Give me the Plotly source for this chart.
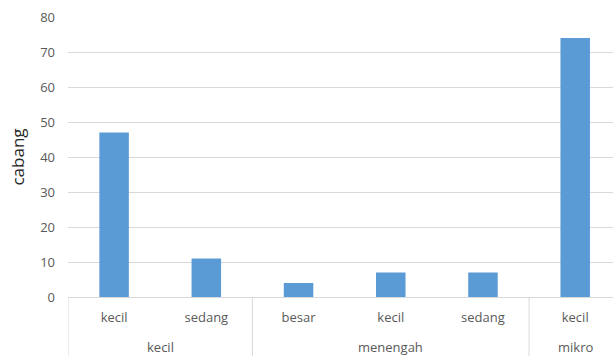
import plotly.graph_objects as go

groups = ["kecil", "kecil", "menengah", "menengah", "menengah", "mikro"]
subcats = ["kecil", "sedang", "besar", "kecil", "sedang", "kecil"]
values = [47, 11, 4, 7, 7, 74]
y_ticks = [0, 10, 20, 30, 40, 50, 60, 70, 80]

keys = [f"{g}/{s}" for g, s in zip(groups, subcats)]

fig = go.Figure(
    go.Bar(
        x=keys,
        y=values,
        marker=dict(color="#5B9BD5", line=dict(width=0)),
        width=0.32,
    )
)

plot_h = 356 - 17 - 59
grid_c = "#D9D9D9"

# group labels and dividers
group_names = []
for g in groups:
    if g not in group_names:
        group_names.append(g)
shapes = []
annotations = []
for g in group_names:
    idx = [i for i, gg in enumerate(groups) if gg == g]
    annotations.append(dict(
        x=sum(idx) / len(idx), xref="x",
        y=-(347 - 297) / plot_h, yref="paper",
        text=g, showarrow=False, yanchor="middle", xanchor="center",
        font=dict(family="Open Sans", size=13, color="#595959"),
    ))
    shapes.append(dict(
        type="line", xref="x", yref="paper",
        x0=idx[0] - 0.5, x1=idx[0] - 0.5,
        y0=0, y1=-59 / plot_h,
        line=dict(color=grid_c, width=1),
    ))

fig.update_layout(
    width=613,
    height=356,
    margin=dict(l=68, r=0, t=17, b=59),
    paper_bgcolor="white",
    plot_bgcolor="white",
    font=dict(family="Open Sans", size=13, color="#595959"),
    showlegend=False,
    shapes=shapes,
    annotations=annotations,
)

fig.update_yaxes(
    range=[0, 80],
    tickvals=y_ticks,
    showgrid=True,
    gridcolor=grid_c,
    gridwidth=1,
    zeroline=False,
    showline=False,
    ticks="",
    ticklabelstandoff=12,
    tickfont=dict(size=13, color="#595959"),
    title=dict(text="cabang", font=dict(size=17, color="#262626"), standoff=11),
)

fig.update_xaxes(
    type="category",
    categoryorder="array",
    categoryarray=keys,
    tickvals=keys,
    ticktext=subcats,
    range=[-0.5, 5.41],
    showline=True,
    linecolor=grid_c,
    linewidth=1,
    ticks="",
    ticklabelstandoff=8,
    tickfont=dict(size=13, color="#595959"),
    showgrid=False,
)

fig.write_html("out.html")
